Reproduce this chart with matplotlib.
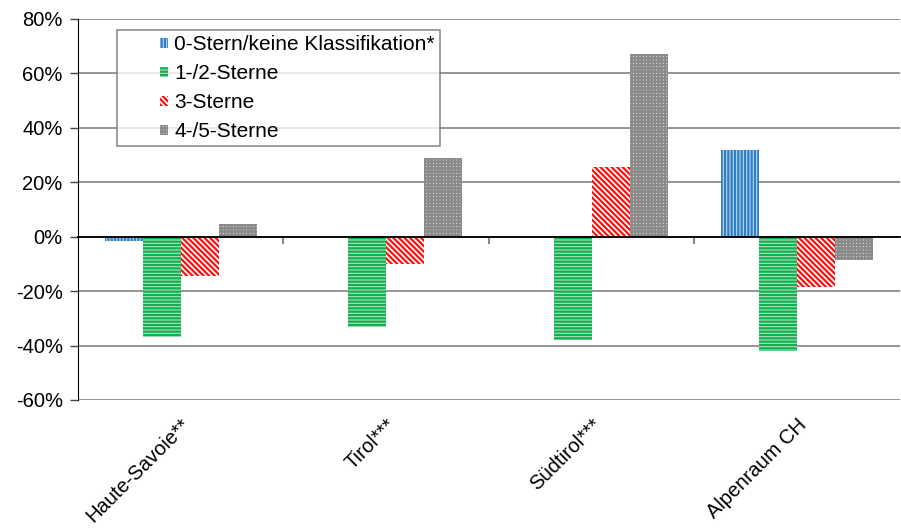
import matplotlib
matplotlib.use("Agg")
import matplotlib.pyplot as plt
import matplotlib.transforms as mtransforms
from matplotlib.patches import Patch, Rectangle
from matplotlib.legend_handler import HandlerPatch
from matplotlib.ticker import PercentFormatter
import numpy as np

regions = ["Haute-Savoie**", "Tirol***", "Südtirol***", "Alpenraum CH"]
series = ["0-Stern/keine Klassifikation*", "1-/2-Sterne", "3-Sterne", "4-/5-Sterne"]
stern0 = [-0.015, 0.0, 0.0, 0.32]
stern12 = [-0.37, -0.33, -0.38, -0.42]
stern3 = [-0.145, -0.10, 0.255, -0.185]
stern45 = [0.045, 0.29, 0.67, -0.085]
values = [stern0, stern12, stern3, stern45]

# fill colour, hatch colour, hatch pattern per series
styles = [
    ("#b9d6ef", "#2f7fc6", "|||||"),
    ("#a9e2bc", "#10b050", "-----"),
    ("#ffffff", "#ff1010", "\\\\\\\\\\\\"),
    ("#e4e4e4", "#8a8a8a", "+++++"),
]

plt.rcParams["font.family"] = ["Liberation Sans", "DejaVu Sans"]
plt.rcParams["font.size"] = 14.5
plt.rcParams["axes.unicode_minus"] = False
plt.rcParams["hatch.linewidth"] = 1.6

fig = plt.figure(figsize=(9.01, 5.29), dpi=100)
ax = fig.add_axes([0.0866, 0.2439, 0.912, 0.7202])

x = np.arange(len(regions))
w = 0.185
for i, vals in enumerate(values):
    fc, hc, hatch = styles[i]
    ax.bar(x + (i - 1.5) * w, vals, w, facecolor=fc, edgecolor=hc,
           hatch=hatch, linewidth=0, zorder=3)

ax.set_xlim(-0.5, 3.5)
ax.set_ylim(-0.6, 0.8)
ax.set_yticks(np.arange(-0.6, 0.81, 0.2))
ax.yaxis.set_major_formatter(PercentFormatter(1.0, decimals=0))
ax.grid(axis="y", color="#8c8c8c", linewidth=1.3, zorder=0)
ax.tick_params(axis="y", direction="out", length=6, width=1, color="#444444",
               labelsize=14.5, pad=5)

for s in ["top", "right"]:
    ax.spines[s].set_visible(False)
ax.spines["left"].set_color("black")
ax.spines["bottom"].set_position(("data", 0))
ax.spines["bottom"].set_color("black")
ax.spines["bottom"].set_linewidth(1.3)
ax.spines["bottom"].set_zorder(4)
ax.set_xticks([0.5, 1.5, 2.5])
ax.tick_params(axis="x", direction="out", length=5, width=1.5,
               color="#888888", labelbottom=False)

# category labels below the plot area
trans = mtransforms.blended_transform_factory(ax.transData, ax.transAxes)
for i, name in enumerate(regions):
    ax.text(x[i], -0.04, name, transform=trans, rotation=45,
            ha="right", va="top", rotation_mode="anchor", fontsize=14.5)


def small_key(legend, orig_handle, xdescent, ydescent, width, height, fontsize):
    kw, kh = 6.0, 7.5
    return Rectangle((-xdescent + width - kw, -ydescent + (height - kh) / 2),
                     kw, kh)


handles = [Patch(facecolor=fc, edgecolor=hc, hatch=h, linewidth=0)
           for fc, hc, h in styles]
leg = ax.legend(handles, series, loc="upper left",
                bbox_to_anchor=(0.0474, 0.971), fontsize=15,
                frameon=True, fancybox=False, handlelength=2.2,
                handleheight=0.7, handletextpad=0.3, labelspacing=0.48,
                borderpad=0.25, borderaxespad=0,
                handler_map={Patch: HandlerPatch(patch_func=small_key)})
leg.get_frame().set_edgecolor("#707070")
leg.get_frame().set_linewidth(1.2)

fig.savefig("out.png", dpi=100)
